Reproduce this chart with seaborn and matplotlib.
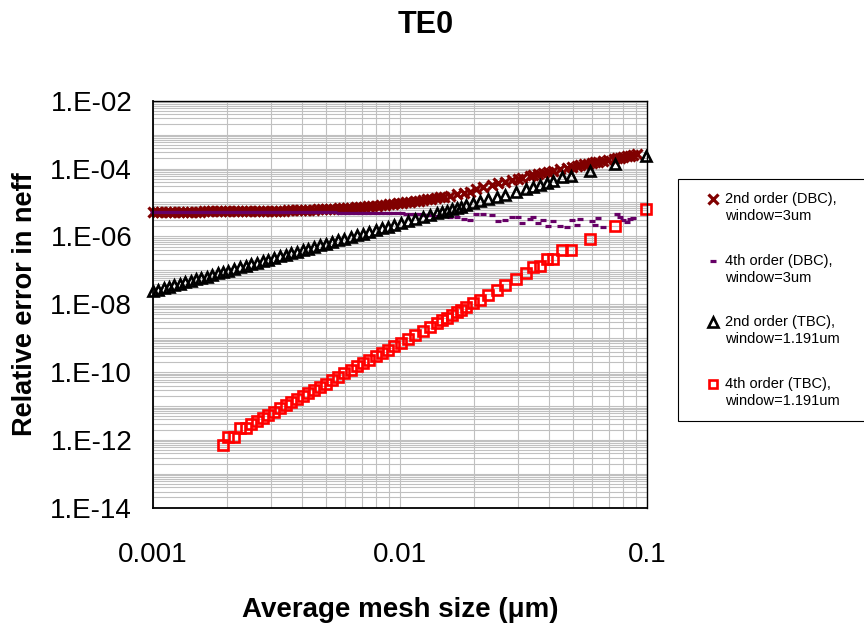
import numpy as np
import matplotlib
matplotlib.use("Agg")
import matplotlib.pyplot as plt
from matplotlib.lines import Line2D
from matplotlib.legend_handler import HandlerBase
from matplotlib.ticker import FixedLocator, FixedFormatter, LogLocator, NullFormatter
import seaborn as sns

sns.set_style("white")
plt.rcParams["font.family"] = ["Liberation Sans", "DejaVu Sans"]
plt.rcParams["text.color"] = "black"
plt.rcParams["axes.labelcolor"] = "black"

# ---- data -----------------------------------------------------------------
# Dirichlet boundary (window = 3 um)
dbc_x = [0.00100, 0.00104, 0.00108, 0.00113, 0.00117, 0.00122, 0.00127, 0.00132, 0.00137, 0.00143,
         0.00149, 0.00155, 0.00161, 0.00167, 0.00174, 0.00181, 0.00188, 0.00196, 0.00204, 0.00212,
         0.00220, 0.00229, 0.00238, 0.00248, 0.00258, 0.00268, 0.00279, 0.00290, 0.00302, 0.00314,
         0.00326, 0.00339, 0.00353, 0.00367, 0.00382, 0.00397, 0.00413, 0.00429, 0.00447, 0.00464,
         0.00483, 0.00502, 0.00522, 0.00543, 0.00565, 0.00588, 0.00611, 0.00636, 0.00661, 0.00688,
         0.00715, 0.00744, 0.00773, 0.00804, 0.00837, 0.00870, 0.00905, 0.00941, 0.00979, 0.01018,
         0.01059, 0.01101, 0.01145, 0.01191, 0.01239, 0.01288, 0.01340, 0.01393, 0.01449, 0.01507,
         0.0159, 0.0170, 0.0181, 0.0192, 0.0204, 0.0217, 0.0235, 0.0250, 0.0266, 0.0283,
         0.0301, 0.0311, 0.0336, 0.0347, 0.0363, 0.0380, 0.0399, 0.0418, 0.0445, 0.0473,
         0.0496, 0.0519, 0.0536, 0.0556, 0.0577, 0.0597, 0.0616, 0.0635, 0.0665, 0.0698,
         0.0732, 0.0754, 0.0778, 0.0802, 0.0828, 0.0854, 0.0880, 0.0909]

dbc2_err = [5.34e-6, 5.35e-6, 5.35e-6, 5.35e-6, 5.36e-6, 5.36e-6, 5.37e-6, 5.37e-6, 5.38e-6, 5.39e-6,
            5.39e-6, 5.40e-6, 5.41e-6, 5.42e-6, 5.43e-6, 5.44e-6, 5.45e-6, 5.46e-6, 5.48e-6, 5.49e-6,
            5.50e-6, 5.52e-6, 5.54e-6, 5.56e-6, 5.58e-6, 5.60e-6, 5.63e-6, 5.65e-6, 5.68e-6, 5.71e-6,
            5.75e-6, 5.78e-6, 5.82e-6, 5.87e-6, 5.91e-6, 5.96e-6, 6.02e-6, 6.07e-6, 6.14e-6, 6.20e-6,
            6.28e-6, 6.36e-6, 6.44e-6, 6.54e-6, 6.64e-6, 6.75e-6, 6.87e-6, 7.00e-6, 7.14e-6, 7.29e-6,
            7.45e-6, 7.63e-6, 7.81e-6, 8.02e-6, 8.24e-6, 8.48e-6, 8.74e-6, 9.02e-6, 9.33e-6, 9.65e-6,
            1.001e-5, 1.039e-5, 1.081e-5, 1.126e-5, 1.175e-5, 1.227e-5, 1.284e-5, 1.345e-5, 1.412e-5, 1.484e-5,
            1.592e-5, 1.744e-5, 1.906e-5, 2.078e-5, 2.44e-5, 2.79e-5, 3.29e-5, 3.66e-5, 4.07e-5, 4.53e-5,
            5.06e-5, 5.37e-5, 6.17e-5, 6.55e-5, 7.12e-5, 7.61e-5, 8.17e-5, 8.74e-5, 9.64e-5, 1.06e-4,
            1.14e-4, 1.21e-4, 1.26e-4, 1.32e-4, 1.39e-4, 1.44e-4, 1.51e-4, 1.59e-4, 1.69e-4, 1.81e-4,
            1.93e-4, 1.99e-4, 2.08e-4, 2.18e-4, 2.28e-4, 2.39e-4, 2.49e-4, 2.61e-4]

dbc4_x = [0.00100, 0.00104, 0.00108, 0.00113, 0.00117, 0.00122, 0.00127, 0.00132, 0.00137, 0.00143,
          0.00149, 0.00155, 0.00161, 0.00167, 0.00174, 0.00181, 0.00188, 0.00196, 0.00204, 0.00212,
          0.00220, 0.00229, 0.00238, 0.00248, 0.00258, 0.00268, 0.00279, 0.00290, 0.00302, 0.00314,
          0.00326, 0.00339, 0.00353, 0.00367, 0.00382, 0.00397, 0.00413, 0.00429, 0.00447, 0.00464,
          0.00483, 0.00502, 0.00522, 0.00543, 0.00565, 0.00588, 0.00611, 0.00636, 0.00661, 0.00688,
          0.00715, 0.00744, 0.00773, 0.00804, 0.00837, 0.00870, 0.00905, 0.00941, 0.00979, 0.01018,
          0.01059, 0.01101, 0.01145, 0.01191, 0.01239, 0.01288, 0.01340, 0.01393, 0.01449, 0.01507,
          0.0159, 0.0170, 0.0181, 0.0192, 0.0204, 0.0217, 0.0235, 0.0250, 0.0266, 0.0283,
          0.0301, 0.0311, 0.0336, 0.0347, 0.0363, 0.0380, 0.0399, 0.0418, 0.0445, 0.0473,
          0.0496, 0.0519, 0.0536, 0.0597, 0.0616, 0.0635, 0.0665, 0.0754, 0.0778, 0.0802,
          0.0828, 0.0854, 0.0880]

dbc4_err = [5.30e-6, 5.30e-6, 5.30e-6, 5.29e-6, 5.29e-6, 5.29e-6, 5.28e-6, 5.28e-6, 5.28e-6, 5.27e-6,
            5.27e-6, 5.27e-6, 5.26e-6, 5.26e-6, 5.26e-6, 5.25e-6, 5.25e-6, 5.24e-6, 5.24e-6, 5.23e-6,
            5.23e-6, 5.22e-6, 5.22e-6, 5.21e-6, 5.21e-6, 5.20e-6, 5.20e-6, 5.19e-6, 5.19e-6, 5.18e-6,
            5.17e-6, 5.17e-6, 5.16e-6, 5.15e-6, 5.15e-6, 5.14e-6, 5.13e-6, 5.12e-6, 5.11e-6, 5.10e-6,
            5.09e-6, 5.08e-6, 5.07e-6, 5.06e-6, 5.05e-6, 5.04e-6, 5.03e-6, 5.02e-6, 5.00e-6, 4.99e-6,
            4.97e-6, 4.96e-6, 4.94e-6, 4.92e-6, 4.90e-6, 4.88e-6, 4.86e-6, 4.84e-6, 4.82e-6, 4.79e-6,
            4.72e-6, 4.63e-6, 4.55e-6, 4.46e-6, 4.37e-6, 4.28e-6, 4.19e-6, 4.10e-6, 4.00e-6, 3.90e-6,
            3.63e-6, 3.63e-6, 3.17e-6, 3.03e-6, 4.46e-6, 4.46e-6, 4.40e-6, 2.83e-6, 3.03e-6, 3.63e-6,
            3.80e-6, 2.52e-6, 3.17e-6, 3.80e-6, 2.42e-6, 3.10e-6, 2.05e-6, 2.80e-6, 1.97e-6, 1.93e-6,
            3.10e-6, 2.15e-6, 3.35e-6, 2.80e-6, 2.10e-6, 3.40e-6, 1.88e-6, 4.64e-6, 3.63e-6, 2.95e-6,
            2.60e-6, 3.30e-6, 3.40e-6]

# Transparent boundary (window = 1.191 um)
tbc2_x = [0.00100, 0.00105, 0.00111, 0.00116, 0.00122, 0.00129, 0.00135, 0.00142, 0.00150, 0.00157,
          0.00165, 0.00174, 0.00183, 0.00192, 0.00202, 0.00213, 0.00225, 0.00237, 0.00250, 0.00264,
          0.00278, 0.00293, 0.00309, 0.00326, 0.00344, 0.00363, 0.00383, 0.00404, 0.00426, 0.00449,
          0.00474, 0.00500, 0.00530, 0.00562, 0.00596, 0.00632, 0.00670, 0.00710, 0.00752, 0.00798,
          0.00845, 0.00896, 0.00950, 0.01007, 0.01078, 0.01153, 0.01234, 0.01320, 0.0141, 0.0148,
          0.0155, 0.0162, 0.0170, 0.0177, 0.0185, 0.0198, 0.0211, 0.0227, 0.0247, 0.0266,
          0.0295, 0.0324, 0.0345, 0.0369, 0.0394, 0.0416, 0.0451, 0.0491, 0.0588, 0.0742,
          0.0993]

tbc2_err = [2.40e-8, 2.65e-8, 2.96e-8, 3.23e-8, 3.57e-8, 3.99e-8, 4.37e-8, 4.84e-8, 5.40e-8, 5.92e-8,
            6.53e-8, 7.27e-8, 8.04e-8, 8.85e-8, 9.79e-8, 1.09e-7, 1.22e-7, 1.35e-7, 1.50e-7, 1.67e-7,
            1.85e-7, 2.06e-7, 2.29e-7, 2.55e-7, 2.84e-7, 3.16e-7, 3.52e-7, 3.92e-7, 4.36e-7, 4.84e-7,
            5.39e-7, 6.00e-7, 6.74e-7, 7.58e-7, 8.53e-7, 9.59e-7, 1.08e-6, 1.21e-6, 1.36e-6, 1.53e-6,
            1.71e-6, 1.93e-6, 2.17e-6, 2.43e-6, 2.79e-6, 3.19e-6, 3.65e-6, 4.18e-6, 4.77e-6, 5.26e-6,
            5.77e-6, 6.30e-6, 6.94e-6, 7.52e-6, 8.21e-6, 9.41e-6, 1.07e-5, 1.24e-5, 1.46e-5, 1.70e-5,
            2.09e-5, 2.52e-5, 2.86e-5, 3.27e-5, 3.73e-5, 4.15e-5, 5.50e-5, 5.90e-5, 8.30e-5, 1.40e-4,
            2.40e-4]

tbc4_x = [0.00192, 0.00202, 0.00213, 0.00225, 0.00237, 0.00250, 0.00264, 0.00278, 0.00293, 0.00309,
          0.00326, 0.00344, 0.00363, 0.00383, 0.00404, 0.00426, 0.00449, 0.00474, 0.00500, 0.00530,
          0.00562, 0.00596, 0.00632, 0.00670, 0.00710, 0.00752, 0.00798, 0.00845, 0.00896, 0.00950,
          0.01007, 0.01078, 0.01153, 0.01234, 0.01320, 0.0141, 0.0148, 0.0155, 0.0162, 0.0170,
          0.0177, 0.0185, 0.0198, 0.0211, 0.0227, 0.0247, 0.0266, 0.0295, 0.0324, 0.0345,
          0.0369, 0.0394, 0.0416, 0.0451, 0.0491, 0.0588, 0.0742, 0.0993]

tbc4_err = [7.1e-13, 1.2e-12, 1.25e-12, 2.3e-12, 2.2e-12, 2.9e-12, 3.67e-12, 4.51e-12, 5.55e-12, 6.85e-12,
            8.46e-12, 1.05e-11, 1.29e-11, 1.60e-11, 1.97e-11, 2.43e-11, 2.99e-11, 3.71e-11, 4.58e-11, 5.77e-11,
            7.27e-11, 9.16e-11, 1.16e-10, 1.46e-10, 1.83e-10, 2.30e-10, 2.90e-10, 3.64e-10, 4.59e-10, 5.78e-10,
            7.28e-10, 9.52e-10, 1.24e-9, 1.62e-9, 2.12e-9, 2.75e-9, 3.33e-9, 4.00e-9, 4.76e-9, 5.76e-9,
            6.75e-9, 8.04e-9, 1.05e-8, 1.32e-8, 1.82e-8, 2.6e-8, 3.7e-8, 5.4e-8, 8.1e-8, 1.22e-7,
            1.33e-7, 2.1e-7, 2.1e-7, 3.9e-7, 3.9e-7, 8.1e-7, 2.0e-6, 6.4e-6]

series_labels = ["2nd order (DBC),\nwindow=3um", "4th order (DBC),\nwindow=3um",
                 "2nd order (TBC),\nwindow=1.191um", "4th order (TBC),\nwindow=1.191um"]

x_ticks = [0.001, 0.01, 0.1]
x_tick_labels = ["0.001", "0.01", "0.1"]
y_ticks = [1e-14, 1e-12, 1e-10, 1e-8, 1e-6, 1e-4, 1e-2]
y_tick_labels = ["1.E-14", "1.E-12", "1.E-10", "1.E-08", "1.E-06", "1.E-04", "1.E-02"]

# ---- styles ---------------------------------------------------------------
styles = [
    dict(marker="x", markersize=7.6, mew=2.3, color="#800000", mec="#800000"),
    dict(marker="_", markersize=4.6, mew=2.3, color="#660066", mec="#660066"),
    dict(marker="^", markersize=7.4, mew=1.9, color="black", mec="black", mfc="none"),
    dict(marker="s", markersize=6.6, mew=1.9, color="#ff0000", mec="#ff0000", mfc="none"),
]

W, H = 864, 630
fig = plt.figure(figsize=(W / 100, H / 100), dpi=100)
ax = fig.add_axes([153 / W, 1 - 507.7 / H, 494 / W, 407 / H])

for xs, ys, st in zip([dbc_x, dbc4_x, tbc2_x, tbc4_x],
                      [dbc2_err, dbc4_err, tbc2_err, tbc4_err], styles):
    sns.lineplot(x=xs, y=ys, ax=ax, estimator=None, sort=False, errorbar=None,
                 linestyle="none", clip_on=False, **st)

ax.set_xscale("log")
ax.set_yscale("log")
ax.set_xlim(0.001, 0.1)
ax.set_ylim(1e-14, 1e-2)

ax.xaxis.set_major_locator(FixedLocator(x_ticks))
ax.xaxis.set_major_formatter(FixedFormatter(x_tick_labels))
ax.xaxis.set_minor_locator(LogLocator(base=10, subs=np.arange(2, 10), numticks=50))
ax.xaxis.set_minor_formatter(NullFormatter())
ax.yaxis.set_major_locator(FixedLocator(y_ticks))
ax.yaxis.set_major_formatter(FixedFormatter(y_tick_labels))
ax.yaxis.set_minor_locator(LogLocator(base=10, subs=np.arange(1, 10), numticks=200))
ax.yaxis.set_minor_formatter(NullFormatter())

ax.set_axisbelow(True)
ax.grid(which="both", axis="both", color="#c0c0c0", linewidth=0.8)
ax.tick_params(which="minor", length=0)
ax.tick_params(axis="both", which="major", direction="out", length=7, width=1.0,
               color="black", labelsize=20, labelcolor="black")
ax.tick_params(axis="x", which="major", pad=18)
ax.tick_params(axis="y", which="major", pad=8)

for side in ["top", "right"]:
    ax.spines[side].set_linewidth(1.0)
    ax.spines[side].set_color("black")
for side in ["left", "bottom"]:
    ax.spines[side].set_linewidth(1.3)
    ax.spines[side].set_color("black")

ax.set_xlabel("Average mesh size (\u03bcm)", fontsize=20, fontweight="bold", color="black")
ax.xaxis.label.set_va("baseline")
ax.xaxis.set_label_coords(0.5, -0.2686)
ax.set_ylabel("Relative error in neff", fontsize=19.5, fontweight="bold", color="black")
ax.yaxis.set_label_coords(-0.2336, 0.5)

fig.text(426 / W, 1 - 33 / H, "TE0", ha="center", va="baseline",
         fontsize=22, fontweight="bold", color="black")


class FirstLineHandler(HandlerBase):
    """Legend marker placed beside the first line of a two-line label."""

    def create_artists(self, legend, orig_handle, xdescent, ydescent,
                       width, height, fontsize, trans):
        mark = Line2D([0.76 * width - xdescent],
                      [0.5 * height - ydescent + 0.6 * fontsize])
        self.update_prop(mark, orig_handle, legend)
        mark.set_linestyle("none")
        mark.set_transform(trans)
        return [mark]


handles = []
for st in styles:
    handles.append(Line2D([], [], linestyle="none", marker=st["marker"],
                          markersize=st["markersize"] * 0.95, markeredgewidth=st["mew"],
                          color=st["color"], markeredgecolor=st["mec"],
                          markerfacecolor=st.get("mfc", st["color"])))

# frame runs past the right edge of the canvas
leg_h = 0.01
leg = fig.legend(handles, series_labels, loc="upper left", mode="expand",
                 bbox_to_anchor=(678 / W, 1 - 179 / H - leg_h, 200 / W, leg_h), borderaxespad=0,
                 fontsize=10.5, frameon=True, fancybox=False, shadow=False,
                 edgecolor="black", facecolor="white", framealpha=1,
                 borderpad=0.9, labelspacing=2.1, handlelength=2.0,
                 handletextpad=0.35, handler_map={Line2D: FirstLineHandler()})
leg.get_frame().set_linewidth(0.8)
for t in leg.get_texts():
    t.set_linespacing(1.27)
    t.set_color("black")

fig.savefig("out.png", dpi=100, facecolor="white")
